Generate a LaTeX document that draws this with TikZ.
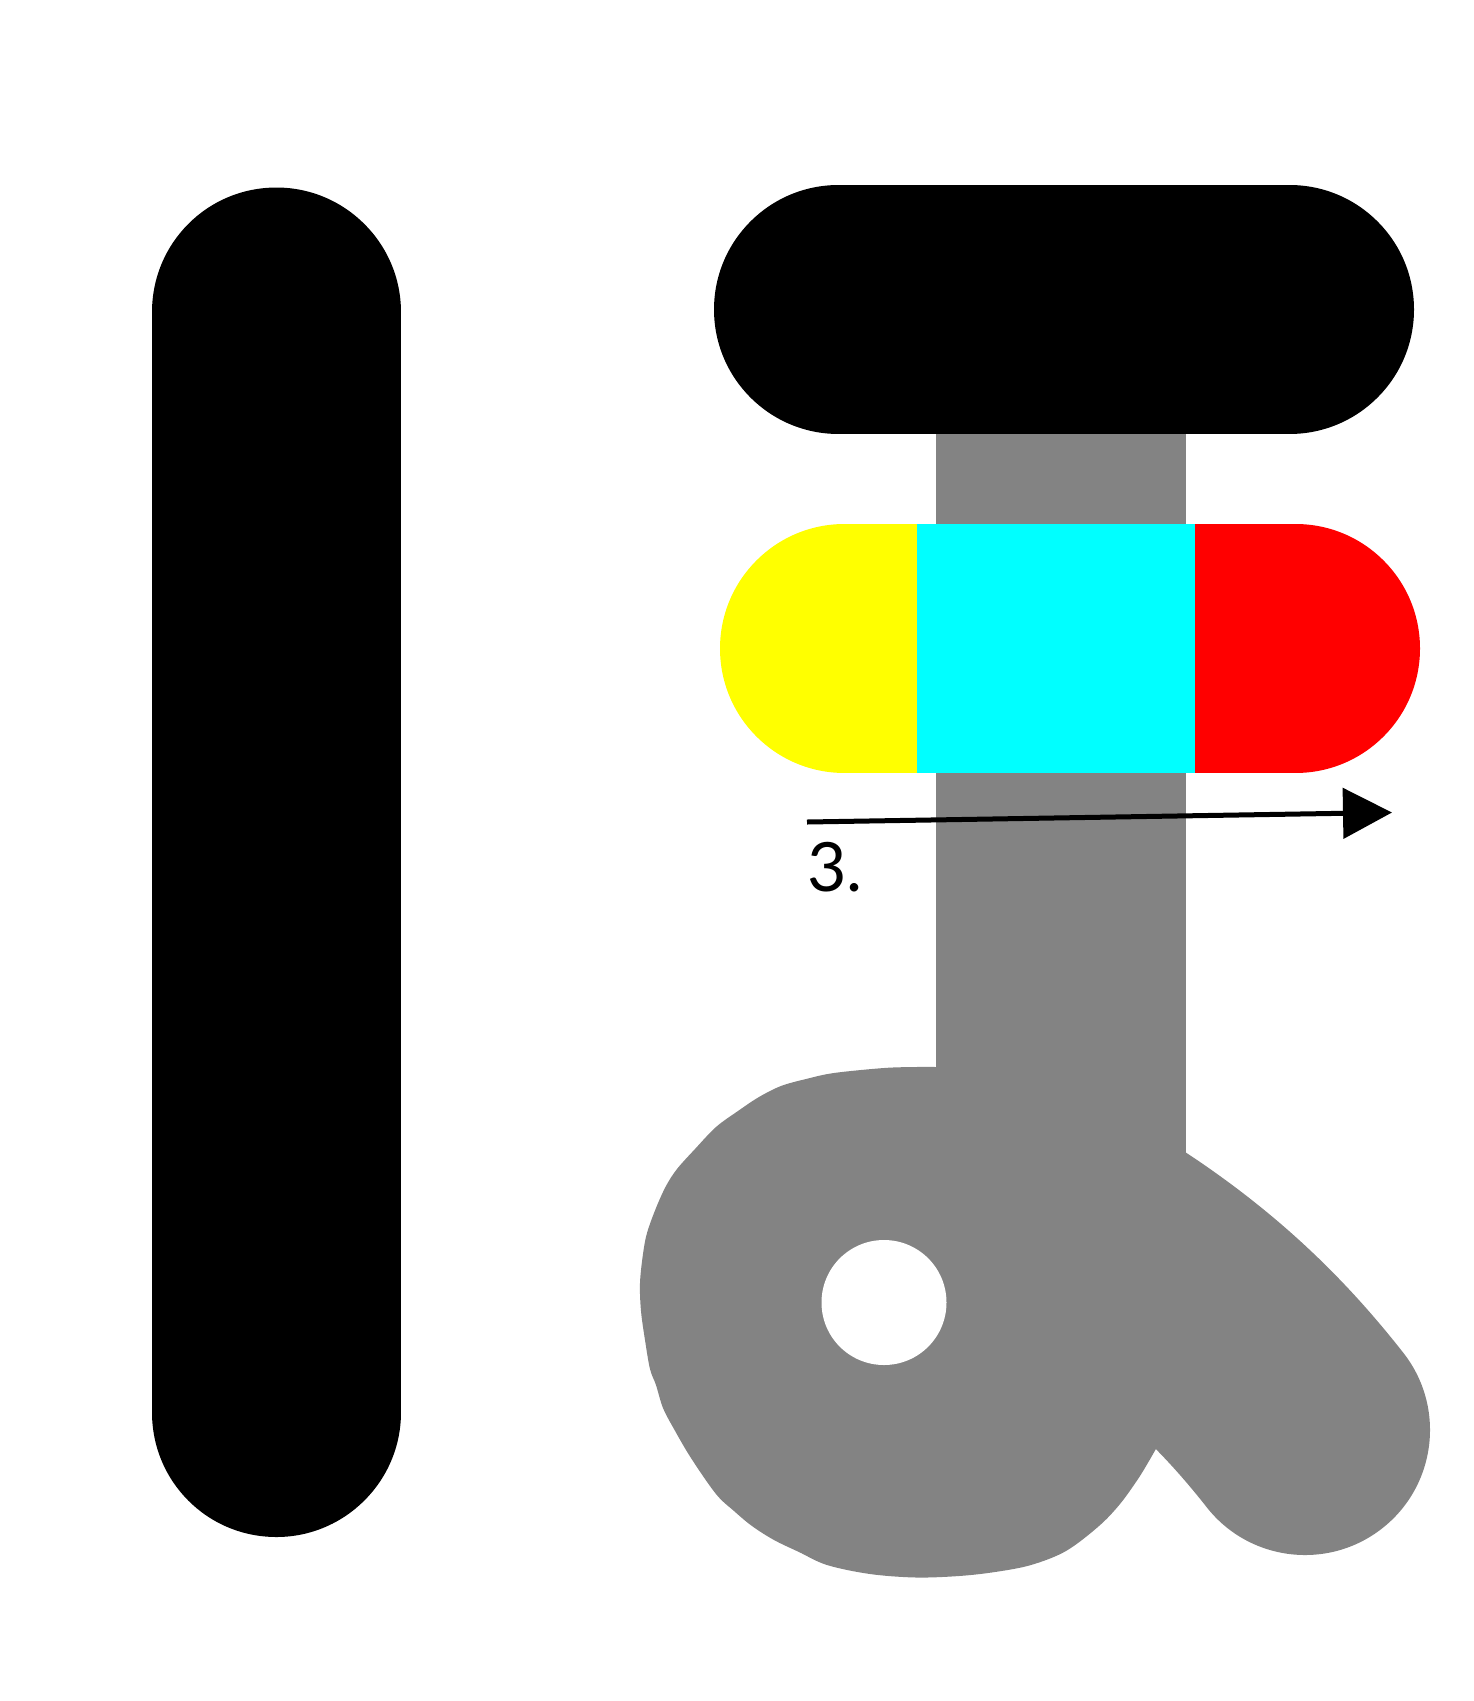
\documentclass[tikz,border=0pt]{standalone}
\usepackage{fontspec}
\setsansfont{Lato}
\usetikzlibrary{arrows.meta}
\definecolor{strokegray}{RGB}{131,131,131}
\definecolor{pillyellow}{RGB}{255,255,0}
\definecolor{pillcyan}{RGB}{0,255,255}
\definecolor{pillred}{RGB}{255,0,0}
\begin{document}
\begin{tikzpicture}[x=1pt,y=-1pt,
  blackstroke/.style={draw=black, line width=249pt, line cap=round},
  pillpart/.style={line width=249pt, line cap=round},
  graystroke/.style={draw=strokegray, line width=250pt, line cap=round},
  arrowline/.style={draw=black, line width=5pt, -{Triangle[length=49pt,width=50pt]}},
  steplabel/.style={font=\sffamily\fontsize{68}{80}\selectfont, anchor=base west, inner sep=0pt}]
\useasboundingbox (0,0) rectangle (1474,1701);
\fill[white] (0,0) rectangle (1474,1701);
% stroke 1
\draw[blackstroke] (276,312) -- (276,1412.5);
% stroke 3 (gray)
\fill[strokegray] (936,430) rectangle (1185.5,1160);
\fill[strokegray] plot[smooth, tension=0.55] coordinates {
  (936,1067) (916,1067) (884,1068) (834,1073) (806,1079) (781,1086)
  (759,1097) (738,1111) (716,1127) (695,1149) (677,1169) (666,1186)
  (656,1208) (647,1233) (643,1254) (640,1283) (641,1311) (645,1340)
  (650,1369) (656,1385) (663,1408) (674,1429) (691,1458) (716,1494)
  (734,1511) (752,1526) (774,1540) (799,1552) (827,1565) (870,1574)
  (916,1577.5) (959,1576) (995,1572) (1031,1565) (1066,1551) (1099,1526)
  (1120,1504) (1138,1479) (1149,1461) (1157,1447)}
  -- (1170,1300) -- (1120,1150) -- (936,1150) -- cycle;
\draw[graystroke] (1060,1222) .. controls (1180,1290) and (1250,1360) .. (1305,1430);
\fill[white] (884,1302.5) circle[radius=62.5];
% stroke 2
\draw[blackstroke] (838.5,309.5) -- (1289.5,309.5);
% highlighted stroke
\draw[pillpart, draw=pillyellow] (844.5,648.5) -- (917,648.5);
\draw[pillpart, draw=pillred] (1195,648.5) -- (1295.5,648.5);
\fill[pillcyan] (917,524) rectangle (1195,773);
% direction arrow
\coordinate (arrS) at (807,822);
\coordinate (arrE) at (1392,812.5);
\draw[arrowline] (arrS) -- (arrE);
\node[steplabel] (lbl) at (807,891) {3.};
\end{tikzpicture}
\end{document}
